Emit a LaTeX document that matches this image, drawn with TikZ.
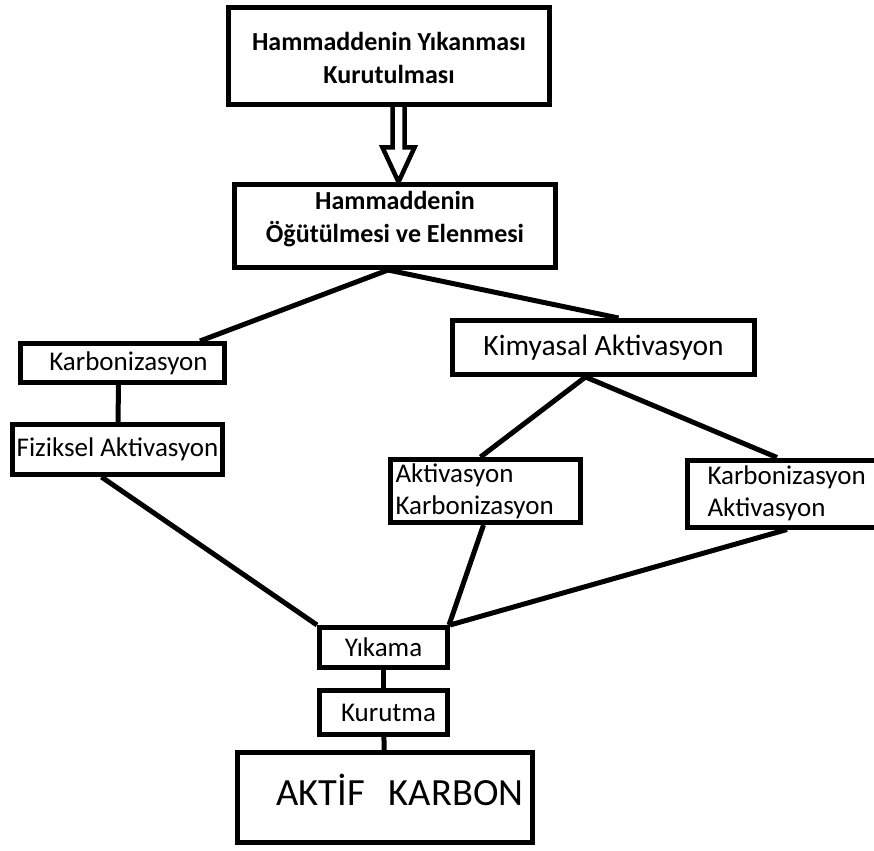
\documentclass[tikz,border=0pt]{standalone}
\usepackage{fontspec}
\setmainfont{Carlito}
\usetikzlibrary{calc}
\newcommand{\twolines}[3]{\raisebox{#1}[0pt][0pt]{\begin{tabular}{@{}c@{}}#2\\#3\end{tabular}}}
\begin{document}
\begin{tikzpicture}[x=1pt, y=-1pt,
	box/.style={draw, line width=5pt, inner sep=0pt, align=center},
	txt/.style={font=\fontsize{27}{32}\selectfont},
	btxt/.style={font=\bfseries\fontsize{26}{33}\selectfont},
	link/.style={line width=5pt}]
\useasboundingbox (0,0) rectangle (874,850);
\clip (0,0) rectangle (874,850);
%boxes
\node[box, btxt, minimum width=321, minimum height=97] (wash) at (389,56)
	{\twolines{-10.5pt}{Hammaddenin Y\i kanmas\i}{Kurutulmas\i}};
\node[box, btxt, minimum width=321, minimum height=83] (grind) at (395,226)
	{\twolines{0.5pt}{Hammaddenin}{\"O\u{g}\"ut\"ulmesi ve Elenmesi}};
\node[box, txt, minimum width=204, minimum height=39] (carb) at (122.5,363)
	{\hspace*{12pt}Karbonizasyon};
\node[box, txt, minimum width=210, minimum height=50] (phys) at (117.5,449.5)
	{Fiziksel Aktivasyon};
\node[box, font=\fontsize{29.5}{34}\selectfont, minimum width=302, minimum height=54] (chem) at (603.5,347.5)
	{Kimyasal Aktivasyon};
\node[box, txt, align=left, text width=180, minimum width=190, minimum height=63] (actcarb) at (485.5,491)
	{Aktivasyon\\Karbonizasyon};
\node[box, txt, align=left, text width=155, minimum width=195, minimum height=67] (carbact) at (785,493.5)
	{Karbonizasyon\\Aktivasyon};
\node[box, txt, minimum width=128, minimum height=40] (rinse) at (383.5,647.5)
	{Y\i kama};
\node[box, txt, minimum width=128, minimum height=44] (dry) at (383.5,712.5)
	{\hspace*{10pt}Kurutma};
\node[box, font=\fontsize{38.5}{42}\selectfont, minimum width=295, minimum height=90] (ac) at (385,797.5)
	{\raisebox{-7.5pt}[0pt][0pt]{\hspace*{30pt}AKT\.IF\hspace{24pt}KARBON}};
%hollow arrow
\draw[line width=4.5pt, line join=miter]
	($(wash.south)+(3.5,0)$) -- ++(0,40.5) -- ++(-10,0) -- ($(grind.north)+(3.5,0)$)
	-- ($(wash.south)+(25.5,40.5)$) -- ++(-10,0) -- ($(wash.south)+(15.5,0)$);
%lines
\draw[link] ($(grind.south)+(-7,0)$) -- ($(carb.north)+(77.5,0)$);
\draw[link] ($(grind.south)+(-7,0)$) -- ($(chem.north)+(15,0)$);
\draw[link] ($(carb.south)+(-4,0)$) -- ($(phys.north)+(0.5,0)$);
\draw[link] ($(chem.south)+(-18,0)$) -- ($(actcarb.north)+(-5,0)$);
\draw[link] ($(chem.south)+(-18,0)$) -- ($(carbact.north)+(-8,0)$);
\draw[link] ($(phys.south)+(-16,0)$) -- (rinse.north west);
\draw[link] ($(actcarb.south)+(-2,0)$) -- ($(rinse.north east)+(-1,0)$);
\draw[link] ($(carbact.south)+(2,0)$) -- (rinse.north east);
\draw[link] (rinse) -- (dry);
\draw[link] (dry) -- (ac);
\end{tikzpicture}
\end{document}
